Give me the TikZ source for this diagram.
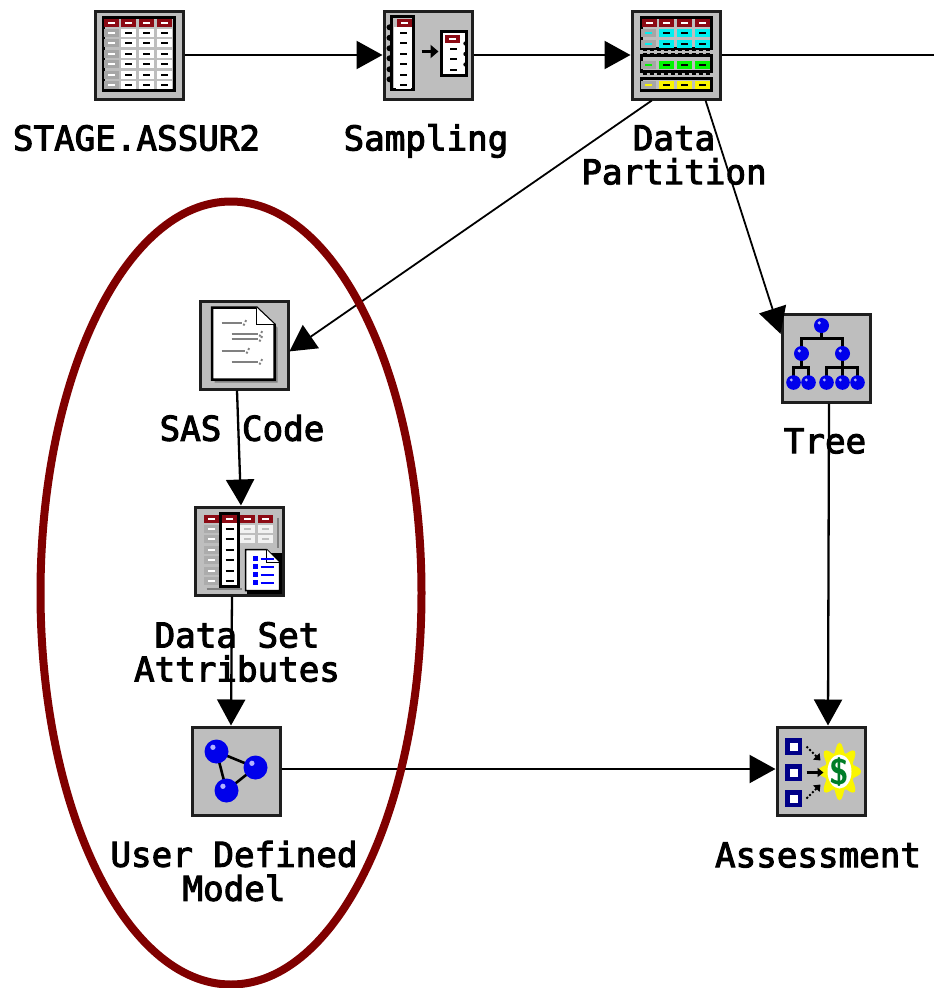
\documentclass[tikz,border=0pt]{standalone}
\usepackage{fontspec}
\setmonofont[FakeBold=3]{DejaVu Sans Mono}
\usepackage{tikz}
\usetikzlibrary{arrows.meta}
\usetikzlibrary{positioning}
\usetikzlibrary{shapes.geometric}

\definecolor{boxgrey}{RGB}{190,190,190}
\definecolor{edgegrey}{RGB}{30,30,30}
\definecolor{hdrred}{RGB}{140,10,20}
\definecolor{ringred}{RGB}{128,0,0}
\definecolor{navyblue}{RGB}{0,0,135}
\definecolor{dollargreen}{RGB}{0,125,40}
\definecolor{cellcyan}{RGB}{0,240,240}
\definecolor{cellgreen}{RGB}{0,245,0}
\definecolor{cellyellow}{RGB}{250,245,0}
\definecolor{ballblue}{RGB}{0,0,235}

\tikzset{
	icon/.style={rectangle, draw=edgegrey, fill=boxgrey, line width=3pt, minimum size=88pt, inner sep=0pt},
	caption/.style={font=\ttfamily\fontsize{34.2}{34}\selectfont, align=center, inner sep=0pt, text=black},
	link/.style={-{Triangle[length=26pt,width=28pt]}, line width=2.3pt, black},
	thinlink/.style={link, line width=1.8pt},
	frame/.style={draw=black, line width=2.5pt, fill=boxgrey},
	sheet/.style={draw=black, line width=2.5pt, fill=white},
	ball/.style={fill=ballblue},
	bar/.style={line width=2.6pt, black},
	greyline/.style={line width=2pt, gray}
}

% one little table cell: fill, dash colour, x, y
\newcommand{\iconcell}[4]{
	\fill[#1] (#3-7.5,#4-4) rectangle (#3+7.5,#4+4);
	\draw[#2, line width=2pt] (#3-3.5,#4) -- (#3+3.5,#4);
}
\newcommand{\iconball}[3]{
	\fill[ball] (#1,#2) circle (#3);
	\fill[white!70!blue] (#1-#3*0.3,#2-#3*0.35) circle (#3*0.22);
}

\begin{document}
\begin{tikzpicture}[x=1pt,y=-1pt,node distance=83pt,on grid]
	\useasboundingbox (0,0) rectangle (934,988);

	\node[icon] (assur) at (139,55) {};
	\node[icon] (sampling) [right=289pt of assur] {};
	\node[icon] (partition) [right=248pt of sampling] {};
	\node[icon] (sascode) [below right=290pt and 105pt of assur] {};
	\node[icon] (attrs) [below left=206pt and 5pt of sascode] {};
	\node[icon] (model) [below left=220pt and 3pt of attrs] {};
	\node[icon] (tree) [below right=303pt and 150pt of partition] {};
	\node[icon] (assess) [below left=413pt and 5pt of tree] {};
	\coordinate (out) at (934,55);

	\node[caption] (assurtext) [below=of assur, xshift=-2.5pt] {STAGE.ASSUR2};
	\node[caption] (samplingtext) [below=of sampling, xshift=-2pt, yshift=-3pt] {Sampling};
	\node[caption] (partitiontext) [below=100pt of partition, xshift=-2pt] {Data\\Partition};
	\node[caption] (sascodetext) [below=of sascode, xshift=-2pt] {SAS Code};
	\node[caption] (attrstext) [below=101pt of attrs, xshift=-2pt] {Data Set\\Attributes};
	\node[caption] (modeltext) [below=100pt of model, xshift=-2pt] {User Defined\\Model};
	\node[caption] (treetext) [below=of tree, xshift=-1pt] {Tree};
	\node[caption] (assesstext) [below=84pt of assess, xshift=-3pt] {Assessment};

	\draw[link] (assur.east) to (sampling.west);
	\draw[link] (sampling.east) to (partition.west);
	\draw[link, -] (partition.east) to (out);
	\draw[thinlink] (partition.242.4) to (sascode.-8.8);
	\draw[thinlink] (partition.-57.8) to (tree.152.4);
	\draw[link] ([xshift=-7pt]sascode.south) to ([xshift=2pt]attrs.north);
	\draw[link] ([xshift=-7pt]attrs.south) to ([xshift=-5pt]model.north);
	\draw[link] ([yshift=2pt]model.east) to ([yshift=2pt]assess.west);
	\draw[link] ([xshift=3pt]tree.south) to ([xshift=7pt]assess.north);

	% table icon
	\begin{scope}[shift={(assur.north west)}]
		\filldraw[frame] (10,8) rectangle (81,81);
		\foreach \c in {18,35,53,71} {\iconcell{hdrred}{white}{\c}{13.5}}
		\foreach \r in {23,33.5,44,54,65,75} {
			\iconcell{gray!70}{white}{18}{\r}
			\foreach \c in {35,53,71} {\iconcell{white}{black}{\c}{\r}}
		}
	\end{scope}

	% sampling icon
	\begin{scope}[shift={(sampling.north west)}]
		\filldraw[frame] (9,7) rectangle (31,80);
		\fill[white] (11,17) rectangle (29,78);
		\iconcell{hdrred}{white}{22}{13.5}
		\foreach \r in {23,33.5,44,54,65,75} {
			\iconcell{white}{black}{21}{\r}
			\fill[black] (7,\r-5.2) circle (3);
		}
		\draw[-{Triangle[length=8pt,width=13pt]}, line width=3pt] (39,42) -- (56,42);
		\filldraw[frame, fill=white] (59,22) rectangle (84,66);
		\iconcell{hdrred}{white}{70}{29}
		\foreach \r in {39,49.5,60} {
			\iconcell{white}{black}{71}{\r}
			\fill[black] (83,\r-5) circle (2.2);
		}
	\end{scope}

	% partition icon
	\begin{scope}[shift={(partition.north west)}]
		\filldraw[frame] (11,8) rectangle (81,39);
		\filldraw[frame] (11,46) rectangle (81,62);
		\filldraw[frame] (11,69) rectangle (81,81);
		\foreach \c in {19,36,54,72} {\iconcell{hdrred}{white}{\c}{13.5}}
		\foreach \r in {23,34} {
			\iconcell{gray!70}{cellcyan}{18}{\r}
			\foreach \c in {36,54,72} {\iconcell{cellcyan}{black}{\c}{\r}}
		}
		\iconcell{gray!70}{cellgreen}{18}{55}
		\foreach \c in {36,54,72} {\iconcell{cellgreen}{black}{\c}{55}}
		\iconcell{gray!70}{cellyellow}{18}{75}
		\foreach \c in {36,54,72} {\iconcell{cellyellow}{black}{\c}{75}}
		\foreach \r in {40.5,44.5,64.5,68.5} {
			\draw[line width=2pt, dash pattern=on 4pt off 3pt] (12,\r) -- (81,\r);
		}
	\end{scope}

	% sas code icon
	\begin{scope}[shift={(sascode.north west)}]
		\fill[gray] (16,11) -- (61,11) -- (79,28) -- (79,83) -- (16,83) -- cycle;
		\filldraw[sheet] (13.5,8) -- (58,8) -- (76,25) -- (76,80) -- (13.5,80) -- cycle;
		\filldraw[draw=black, line width=1.5pt, fill=white] (58,8) -- (58,25) -- (76,25);
		\foreach \a/\b/\r in {23/43/23,33/59/34,33/59/39,23/46/51,33/59/62} {
			\draw[greyline] (\a,\r) -- (\b,\r);
			\draw[greyline, dotted] (\b+2,\r+3) -- (\b+5,\r-3);
		}
	\end{scope}

	% data set attributes icon
	\begin{scope}[shift={(attrs.north west)}]
		\foreach \c in {18,54,72} {\iconcell{hdrred}{white}{\c}{13.5}}
		\foreach \r in {23,33.5,44,54,65,75} {
			\iconcell{gray!65}{white}{18}{\r}
		}
		\foreach \r in {23,33.5} {
			\foreach \c in {54,72} {\iconcell{white!90!gray}{gray!50}{\c}{\r}}
		}
		\draw[greyline] (13,83) -- (48,83);
		\draw[greyline] (84,12) -- (84,42);
		\filldraw[draw=black, line width=2.5pt, fill=white] (27,8) rectangle (45,81);
		\iconcell{hdrred}{white}{36}{13.5}
		\foreach \r in {23,33.5,44,54,65,75} {
			\draw[black, line width=2pt] (32,\r) -- (40,\r);
		}
		\fill[black] (53,47) rectangle (88,88);
		\filldraw[draw=black, line width=1.5pt, fill=white] (52,44) -- (73,44) -- (86,57) -- (86,85) -- (52,85) -- cycle;
		\filldraw[draw=black, line width=1.2pt, fill=white] (73,44) -- (73,57) -- (86,57);
		\foreach \r in {53,61,69,77} {
			\fill[blue] (59,\r-2.5) rectangle (64,\r+2.5);
			\draw[blue, line width=2pt] (67,\r) -- (80,\r);
		}
	\end{scope}

	% user defined model icon
	\begin{scope}[shift={(model.north west)}]
		\draw[bar] (26,26) -- (65,42) -- (36,65) -- cycle;
		\iconball{26}{26}{12}
		\iconball{65}{42}{12}
		\iconball{36}{65}{12}
	\end{scope}

	% tree icon
	\begin{scope}[shift={(tree.north west)}]
		\draw[bar] (41,13) -- (41,26) (21,41) |- (62,26) -- (62,41);
		\draw[bar] (13,70) |- (28,55) -- (28,70) (21,41) -- (21,55);
		\draw[bar] (46,70) |- (77,55) -- (77,70) (62,41) -- (62,70);
		\iconball{41}{13}{7.5}
		\iconball{21}{41}{7.5}
		\iconball{62}{41}{7.5}
		\foreach \c in {13,28,46,62,77} {\iconball{\c}{70}{7.3}}
	\end{scope}

	% assessment icon
	\begin{scope}[shift={(assess.north west)}]
		\foreach \r in {21,47,73} {
			\fill[navyblue] (9.5,\r-8.5) rectangle (26.5,\r+8.5);
			\fill[white] (14,\r-4) rectangle (22,\r+4);
		}
		\fill[cellyellow] plot[domain=0:360,samples=65] ({64+18*(1+0.2*cos(8*\x))*cos(\x)},{46+24*(1+0.2*cos(8*\x))*sin(\x)}) -- cycle;
		\fill[white] (64,46) ellipse (12 and 17);
		\draw[-{Triangle[length=6pt,width=9pt]}, line width=2pt, dotted] (31,21) -- (45,35);
		\draw[-{Triangle[length=6pt,width=9pt]}, line width=2.2pt] (31,47) -- (48,47);
		\draw[-{Triangle[length=6pt,width=9pt]}, line width=2pt, dotted] (31,73) -- (45,59);
		\node[font=\sffamily\bfseries\fontsize{36}{36}\selectfont, text=dollargreen, inner sep=0pt] (dollar) at (64,46) {\$};
	\end{scope}

	\node[ellipse, draw=ringred, line width=8pt, minimum width=381pt, minimum height=783pt, inner sep=0pt] (ring) at (231,593) {};
\end{tikzpicture}
\end{document}
